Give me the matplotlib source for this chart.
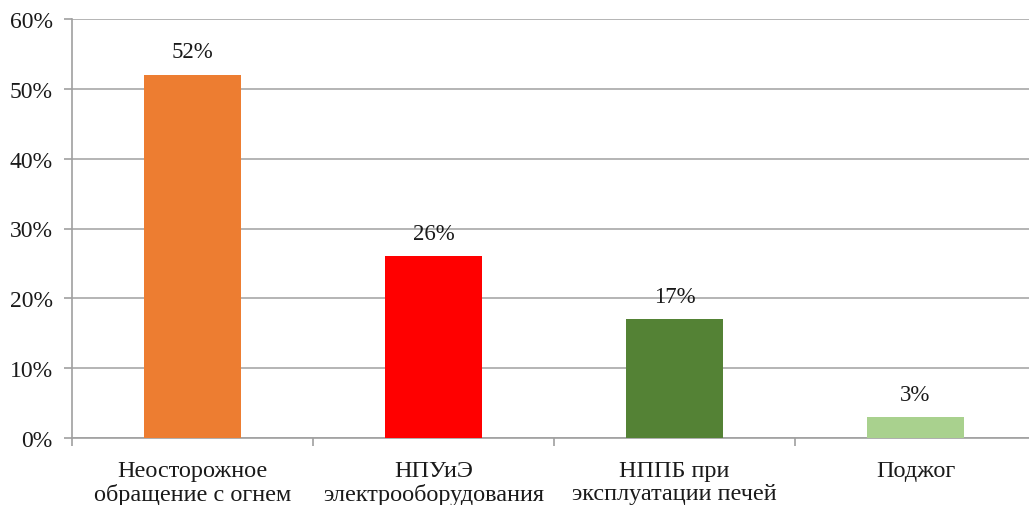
import matplotlib.pyplot as plt
import numpy as np

categories = ['Неосторожное\nобращение с огнем', 'НПУиЭ\nэлектрооборудования',
              'НППБ при\nэксплуатации печей', 'Поджог']
values = [52, 26, 17, 3]
colors = ['#ED7D31', '#FF0000', '#548235', '#A9D18E']
yticks = [0, 10, 20, 30, 40, 50, 60]

plt.rcParams['font.family'] = ['Liberation Serif', 'DejaVu Serif']

fig = plt.figure(figsize=(10.29, 5.06), dpi=100)
ax = fig.add_axes([72 / 1029, 67 / 506, 964 / 1029, 419 / 506])

x = np.arange(len(categories))
bars = ax.bar(x, values, width=0.4, color=colors, zorder=3)
for xi, v in zip(x, values):
    ax.annotate(f'{v}%', (xi, v), xytext=(0, 9), textcoords='offset points',
                ha='center', va='bottom', fontsize=16.5, color='#1a1a1a')

ax.set_xlim(-0.5, len(categories) - 0.5)
ax.set_ylim(0, 60)
ax.set_yticks(yticks)
ax.set_yticklabels([f'{t}%' for t in yticks], fontsize=17, color='#1a1a1a')
ax.yaxis.grid(True, color='#B4B4B4', linewidth=1.4, zorder=0)

ax.set_xticks(x)
ax.set_xticklabels(categories, fontsize=17.5, color='#1a1a1a', linespacing=1.12)
ax.set_xticks(np.arange(len(categories) + 1) - 0.5, minor=True)
ax.tick_params(axis='x', which='major', length=0, pad=16)
ax.tick_params(axis='x', which='minor', length=6, color='#A0A0A0', width=1.2)
ax.tick_params(axis='y', length=6, color='#A0A0A0', width=1.2, pad=8)

for s in ['top', 'right']:
    ax.spines[s].set_visible(False)
for s in ['left', 'bottom']:
    ax.spines[s].set_color('#A0A0A0')
    ax.spines[s].set_linewidth(1.2)

fig.savefig('out.png', dpi=100)
